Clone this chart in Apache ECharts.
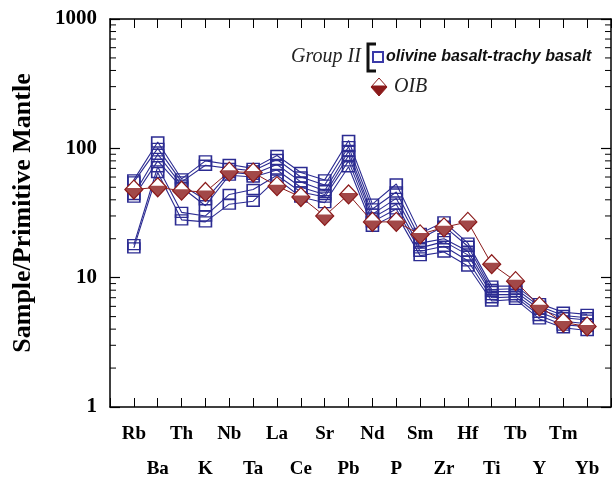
<!DOCTYPE html>
<html>
<head>
<meta charset="utf-8">
<script src="https://cdn.jsdelivr.net/npm/echarts@6/dist/echarts.min.js"></script>
<style>html,body{margin:0;padding:0;background:#fff}#c{width:614px;height:479px}</style>
</head>
<body>
<div id="c"></div>
<script>
const categories = ['Rb','Ba','Th','K','Nb','Ta','La','Ce','Sr','Pb','Nd','P','Sm','Zr','Hf','Ti','Tb','Y','Tm','Yb'];
const sample1 = [57, 112, 58, 80, 75, 70, 88, 65, 57, 115, 37, 53, 22, 27, 18.5, 8.6, 8.6, 6.3, 5.4, 5.2];
const sample2 = [55, 100, 55, 74, 70, 67, 82, 60, 52, 103, 34, 46, 20, 25, 17.5, 8.1, 8.2, 6.0, 5.1, 4.9];
const sample3 = [44, 90, 52, 40, 65, 63, 75, 55, 47, 95, 31, 41, 18.5, 20, 16, 7.8, 7.8, 5.7, 4.9, 4.7];
const sample4 = [42, 80, 50, 36, 62, 60, 68, 50, 44, 88, 29, 37, 17, 19, 15, 7.4, 7.4, 5.4, 4.6, 4.4];
const sample5 = [18, 72, 32, 30, 44, 48, 62, 46, 42, 80, 27, 34, 16, 17.5, 13.5, 7.0, 7.1, 5.1, 4.3, 4.2];
const sample6 = [17, 65, 28, 27, 37, 39, 58, 42, 38, 72, 25, 31, 14.8, 15.8, 12.3, 6.6, 6.8, 4.8, 4.1, 3.9];
const oib = [48, 50, 47, 46, 66, 65, 51, 42, 30, 44, 27, 27, 21.6, 24.5, 27, 12.7, 9.4, 6.0, 4.5, 4.2];
const yTickLabels = ['1', '10', '100', '1000'];
const minorTickValues = [2,3,4,5,6,7,8,9,20,30,40,50,60,70,80,90,200,300,400,500,600,700,800,900];

const blue = '#2c2c92';
const red = '#8b1a1a';
const serif = 'Liberation Serif';

const samples = [sample1, sample2, sample3, sample4, sample5, sample6];
const toPts = arr => arr.map((v, i) => [i, v]);

const series = samples.map((s, k) => ({
  type: 'line', name: 'olivine basalt-trachy basalt ' + (k + 1),
  data: toPts(s), symbol: 'rect', symbolSize: [12, 10],
  lineStyle: { color: blue, width: 1.1 },
  itemStyle: { color: 'rgba(255,255,255,0)', borderColor: blue, borderWidth: 1.5 },
  z: 2, animation: false
}));
series.push({
  type: 'line', name: 'OIB', data: toPts(oib), symbol: 'diamond', symbolSize: [18, 19],
  lineStyle: { color: red, width: 1 },
  itemStyle: { color: '#fff', borderColor: red, borderWidth: 1.2 },
  z: 5, animation: false
});
series.push({
  type: 'scatter', name: 'OIB fill', data: toPts(oib),
  symbol: 'path://M0.08 0.42 L0.92 0.42 L1 0.5 L0.5 1 L0 0.5 Z',
  symbolSize: [18, 11], symbolOffset: [0, 4],
  itemStyle: { color: red }, z: 6, animation: false, silent: true
});
series.push({
  type: 'custom', name: 'minor ticks', coordinateSystem: 'cartesian2d',
  data: minorTickValues.map(v => [-1, v]), z: 10, animation: false, silent: true,
  renderItem: function (params, api) {
    const l = api.coord([-1, api.value(1)]);
    const r = api.coord([20, api.value(1)]);
    return { type: 'group', children: [
      { type: 'line', shape: { x1: l[0], y1: l[1], x2: l[0] + 6, y2: l[1] }, style: { stroke: '#000', lineWidth: 1 } },
      { type: 'line', shape: { x1: r[0], y1: r[1], x2: r[0] - 6, y2: r[1] }, style: { stroke: '#000', lineWidth: 1 } }
    ]};
  }
});

const axisLine = { show: true, onZero: false, lineStyle: { color: '#000', width: 1.5 } };
const labelFont = { fontFamily: serif, fontWeight: 'bold', fontSize: 19, color: '#000' };

const chart = echarts.init(document.getElementById('c'), null, { renderer: 'canvas' });
chart.setOption({
  backgroundColor: '#fff',
  animation: false,
  grid: { left: 110, right: 2, top: 19, bottom: 71 },
  xAxis: [
    { type: 'value', min: -1, max: 20, interval: 1, position: 'bottom',
      axisLine: axisLine, splitLine: { show: false },
      axisTick: { inside: true, length: 9, lineStyle: { color: '#000', width: 1 } },
      axisLabel: Object.assign({ margin: 18, showMinLabel: true, showMaxLabel: true,
        formatter: v => (v >= 0 && v <= 19 && v % 2 === 0) ? categories[v] : '' }, labelFont) },
    { type: 'value', min: -1, max: 20, interval: 1, position: 'bottom',
      axisLine: { show: false, onZero: false }, axisTick: { show: false }, splitLine: { show: false },
      axisLabel: Object.assign({ margin: 53, showMinLabel: true, showMaxLabel: true,
        formatter: v => (v >= 0 && v <= 19 && v % 2 === 1) ? categories[v] : '' }, labelFont) },
    { type: 'value', min: -1, max: 20, interval: 1, position: 'top',
      axisLine: axisLine, splitLine: { show: false },
      axisTick: { inside: true, length: 9, lineStyle: { color: '#000', width: 1 } },
      axisLabel: { show: false } }
  ],
  yAxis: [
    { type: 'log', logBase: 10, min: 1, max: 1000, position: 'left',
      axisLine: axisLine, splitLine: { show: false },
      axisTick: { inside: true, length: 10, lineStyle: { color: '#000', width: 1.2 } },
      axisLabel: { margin: 13, fontFamily: serif, fontWeight: 'bold', fontSize: 21, color: '#000',
        formatter: v => yTickLabels[Math.round(Math.log10(v))] } },
    { type: 'log', logBase: 10, min: 1, max: 1000, position: 'right',
      axisLine: axisLine, splitLine: { show: false },
      axisTick: { inside: true, length: 10, lineStyle: { color: '#000', width: 1.2 } },
      axisLabel: { show: false } }
  ],
  series: series,
  graphic: [
    { type: 'text', x: 23, y: 213, rotation: Math.PI / 2,
      style: { text: 'Sample/Primitive Mantle', font: 'bold 26px "Liberation Serif"', fill: '#000',
        align: 'center', verticalAlign: 'middle' } },
    { type: 'text', x: 291, y: 57, style: { text: 'Group II', font: 'italic 20px "Liberation Serif"', fill: '#222', verticalAlign: 'middle' } },
    { type: 'polyline', shape: { points: [[376, 44], [368, 44], [368, 71], [376, 71]] }, style: { stroke: '#111', lineWidth: 3, fill: null } },
    { type: 'rect', shape: { x: 373, y: 52, width: 10, height: 10 }, style: { stroke: '#3a3aa8', lineWidth: 2, fill: '#fff' } },
    { type: 'text', x: 386, y: 57, style: { text: 'olivine basalt-trachy basalt', font: 'italic bold 16px "Liberation Sans"', fill: '#111', verticalAlign: 'middle' } },
    { type: 'polygon', shape: { points: [[371, 87], [379, 78], [387, 87], [379, 96]] }, style: { stroke: red, lineWidth: 1, fill: '#fff' } },
    { type: 'polygon', shape: { points: [[372.5, 85.5], [385.5, 85.5], [387, 87], [379, 96], [371, 87]] }, style: { fill: red } },
    { type: 'text', x: 394, y: 87, style: { text: 'OIB', font: 'italic 20px "Liberation Serif"', fill: '#222', verticalAlign: 'middle' } }
  ]
});
</script>
</body>
</html>
